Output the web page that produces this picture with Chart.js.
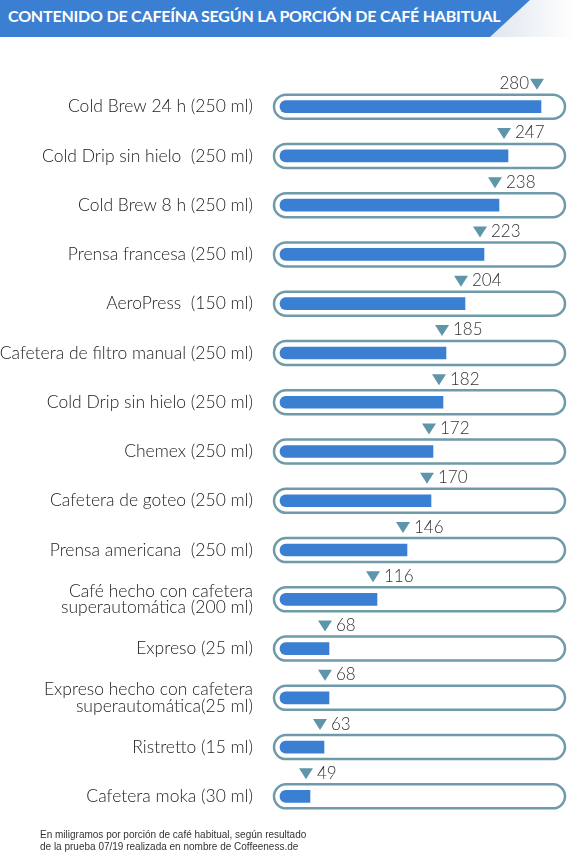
<!DOCTYPE html>
<html><head><meta charset="utf-8">
<script src="https://cdn.jsdelivr.net/npm/chart.js@4"></script>
<style>
html,body{margin:0;padding:0;background:#fff;width:575px;height:863px;overflow:hidden;position:relative}
#hdr{position:absolute;left:0;top:0;width:575px;height:37px}
#title{position:absolute;left:8px;top:6px;color:#fff;font:bold 16px Lato,sans-serif;letter-spacing:-0.2px}
#c{position:absolute;left:0;top:0}
#foot{position:absolute;left:40px;top:829px;font:10px "Liberation Sans",Arial,sans-serif;color:#333;line-height:12px}
</style></head><body>
<svg id="hdr" width="575" height="37"><defs><linearGradient id="g" x1="0" x2="1"><stop offset="0" stop-color="#dfe6ee"/><stop offset="1" stop-color="#fff"/></linearGradient></defs>
<polygon points="490,37 530,0 575,0 575,37" fill="url(#g)"/>
<polygon points="0,0 530,0 490,37 0,37" fill="#3b7fd2"/></svg>
<div id="title">CONTENIDO DE CAFEÍNA SEGÚN LA PORCIÓN DE CAFÉ HABITUAL</div>
<canvas id="c" width="575" height="863"></canvas>
<div id="foot">En miligramos por porción de café habitual, según resultado<br>de la prueba 07/19 realizada en nombre de Coffeeness.de</div>
<script>
const categories = [
 "Cold Brew 24 h (250 ml)","Cold Drip sin hielo  (250 ml)","Cold Brew 8 h (250 ml)","Prensa francesa (250 ml)",
 "AeroPress  (150 ml)","Cafetera de filtro manual (250 ml)","Cold Drip sin hielo (250 ml)","Chemex (250 ml)",
 "Cafetera de goteo (250 ml)","Prensa americana  (250 ml)",["Café hecho con cafetera","superautomática (200 ml)"],
 "Expreso (25 ml)",["Expreso hecho con cafetera","superautomática(25 ml)"],"Ristretto (15 ml)","Cafetera moka (30 ml)"];
const caffeine = [280,247,238,223,204,185,182,172,170,146,116,68,68,63,49];

const deco = {
 id:'deco',
 beforeDatasetsDraw(ch){
  const c=ch.ctx, y=ch.scales.y, x1=274, x2=565, h=24;
  c.save(); c.strokeStyle='#6f9aa9'; c.lineWidth=2.5; c.fillStyle='#fff';
  categories.forEach((_,i)=>{const yc=y.getPixelForValue(i);
   c.beginPath(); c.roundRect(x1,yc-h/2,x2-x1,h,h/2); c.fill(); c.stroke();});
  c.restore();
 },
 afterDatasetsDraw(ch){
  const c=ch.ctx, y=ch.scales.y, x=ch.scales.x;
  c.save(); c.font='300 17px Lato, sans-serif'; c.textBaseline='middle';
  caffeine.forEach((v,i)=>{
   const yc=y.getPixelForValue(i)-23, xp=x.getPixelForValue(v)-4;
   c.fillStyle='#5f95aa'; c.beginPath(); c.moveTo(xp-7,yc-5); c.lineTo(xp+7,yc-5); c.lineTo(xp,yc+6); c.closePath(); c.fill();
   c.fillStyle='#333';
   if(i===0){c.textAlign='right'; c.fillText(String(v),xp-8,yc);}
   else{c.textAlign='left'; c.fillText(String(v),xp+11,yc);}
  });
  c.restore();
 }
};

new Chart(document.getElementById('c'),{
 type:'bar',
 data:{labels:categories,datasets:[{data:caffeine,base:19,backgroundColor:'#3b7fd2',barThickness:12,borderRadius:{topLeft:6,bottomLeft:6},borderSkipped:false}]},
 options:{indexAxis:'y',responsive:false,animation:false,
  layout:{padding:{top:82,bottom:42,right:10,left:0}},
  plugins:{legend:{display:false},tooltip:{enabled:false}},
  scales:{
   x:{display:false,min:0,max:304},
   y:{grid:{display:false},border:{display:false},
      afterFit(s){s.width=261;},
      ticks:{padding:0,color:'#222',font:{family:'Lato',size:17.5,weight:300,lineHeight:0.95}}}
  }},
 plugins:[deco]
});
</script></body></html>
